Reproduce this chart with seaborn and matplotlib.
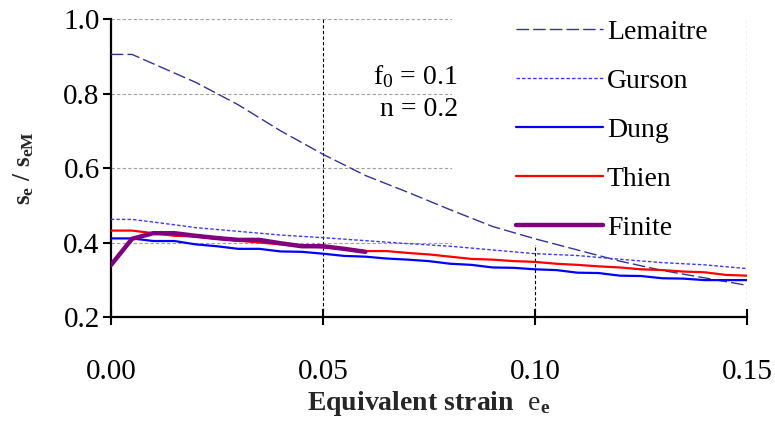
import matplotlib
matplotlib.use("Agg")
import matplotlib.pyplot as plt
import matplotlib.patches as mpatches
import seaborn as sns
import pandas as pd

# 数据
strain_coarse = [0.0, 0.005, 0.01, 0.02, 0.03, 0.04, 0.05, 0.06, 0.07, 0.08,
                 0.09, 0.10, 0.11, 0.12, 0.13, 0.14, 0.15]
lemaitre = [0.905, 0.905, 0.88, 0.83, 0.77, 0.70, 0.637, 0.58, 0.535, 0.488,
            0.443, 0.41, 0.38, 0.35, 0.325, 0.305, 0.285]
gurson = [0.462, 0.462, 0.455, 0.44, 0.43, 0.42, 0.413, 0.405, 0.397, 0.39,
          0.38, 0.37, 0.365, 0.355, 0.346, 0.34, 0.33]

strain_fine = [round(i * 0.005, 3) for i in range(31)]
dung = [0.411, 0.411, 0.404, 0.404, 0.395, 0.39, 0.383, 0.383, 0.376, 0.375,
        0.370, 0.364, 0.362, 0.357, 0.354, 0.350, 0.343, 0.340, 0.333, 0.332,
        0.328, 0.326, 0.319, 0.318, 0.311, 0.310, 0.304, 0.303, 0.299, 0.299,
        0.299]
thien = [0.432, 0.432, 0.425, 0.418, 0.416, 0.41, 0.405, 0.400, 0.395, 0.390,
         0.387, 0.383, 0.377, 0.377, 0.372, 0.368, 0.362, 0.356, 0.354, 0.350,
         0.348, 0.343, 0.340, 0.336, 0.333, 0.328, 0.326, 0.322, 0.320, 0.313,
         0.311]

strain_finite = strain_fine[:13]
finite = [0.339, 0.41, 0.425, 0.425, 0.418, 0.412, 0.407, 0.407, 0.398, 0.39,
          0.39, 0.383, 0.375]

x_ticks = [0.0, 0.05, 0.10, 0.15]
x_ticklabels = ["0.00", "0.05", "0.10", "0.15"]
y_ticks = [0.2, 0.4, 0.6, 0.8, 1.0]

sns.set_theme(style="white")
plt.rcParams['font.family'] = 'serif'
plt.rcParams['font.serif'] = ['Liberation Serif', 'DejaVu Serif']
plt.rcParams['text.color'] = 'black'
plt.rcParams['mathtext.fontset'] = 'custom'
plt.rcParams['mathtext.rm'] = 'Liberation Serif'
plt.rcParams['mathtext.it'] = 'Liberation Serif'
plt.rcParams['mathtext.bf'] = 'Liberation Serif:bold'

fig = plt.figure(figsize=(7.75, 4.23), dpi=100)
ax = fig.add_axes([0.143, 0.2506, 0.821, 0.7044])

series = [
    ("Lemaitre", strain_coarse, lemaitre, dict(color="#333399", lw=1.0, dashes=(9, 3))),
    ("Gurson", strain_coarse, gurson, dict(color="#3a3aff", lw=1.0, dashes=(2.5, 1.5))),
    ("Dung", strain_fine, dung, dict(color="#0000ff", lw=1.6)),
    ("Thien", strain_fine, thien, dict(color="#ff0000", lw=1.6)),
    ("Finite", strain_finite, finite, dict(color="#800080", lw=3.2)),
]

for name, xs, ys, style in series:
    df = pd.DataFrame({"strain": xs, "ratio": ys})
    dashes = style.pop("dashes", None)
    line_ax = sns.lineplot(data=df, x="strain", y="ratio", ax=ax, label=name,
                           zorder=3, **style)
    if dashes is not None:
        line_ax.lines[-1].set_dashes(dashes)

ax.set_xlim(0, 0.15)
ax.set_ylim(0.2, 1.0)
ax.set_xticks(x_ticks)
ax.set_xticklabels(x_ticklabels)
ax.set_yticks(y_ticks)
ax.set_yticklabels([f"{v:.1f}" for v in y_ticks])

# 网格线
for v in y_ticks[1:]:
    ax.axhline(v, color="#a0a0a0", lw=0.8, ls=(0, (3, 2)), zorder=0.5)
for v in x_ticks[1:-1]:
    ax.axvline(v, color="black", lw=0.8, ls=(0, (3, 2)), zorder=0.5)
ax.axvline(x_ticks[-1], color="black", lw=0.8, ls=(0, (3, 2)), zorder=2)

for s in ["top", "right"]:
    ax.spines[s].set_visible(False)
for s in ["left", "bottom"]:
    ax.spines[s].set_color("black")
    ax.spines[s].set_linewidth(1.6)

ax.tick_params(axis="y", direction="out", length=6, width=1.5, pad=2,
               labelsize=21, left=True, colors="black")
ax.tick_params(axis="x", direction="inout", length=12, width=1.5, pad=24,
               labelsize=21, bottom=True, colors="black")

ax.set_xlabel(r"$\mathbf{Equivalent\ strain}\ \ \mathrm{e}_\mathbf{e}$",
              fontsize=20, labelpad=3)
ax.set_ylabel(r"$\mathbf{s}_\mathbf{e}\ \mathbf{/}\ \mathbf{s}_\mathbf{eM}$",
              fontsize=18, labelpad=20)

ax.text(0.0818, 0.845, r"f$_0$ = 0.1", ha="right", va="center", fontsize=20)
ax.text(0.0818, 0.756, "n = 0.2", ha="right", va="center", fontsize=20)

# 图例背景
bg = mpatches.Rectangle((0.536, 0.242), 0.5, 0.82, transform=ax.transAxes,
                        facecolor="white", edgecolor="none", zorder=1,
                        clip_on=False)
ax.add_patch(bg)

leg = ax.legend(loc="upper left", bbox_to_anchor=(497 / 775, 1 - 0 / 423),
                bbox_transform=fig.transFigure, frameon=False, fontsize=20,
                handlelength=3.1, handletextpad=0.15, labelspacing=0.85,
                borderpad=0.2)
for t in leg.get_texts():
    t.set_color("black")

fig.savefig("out.png", dpi=100)
